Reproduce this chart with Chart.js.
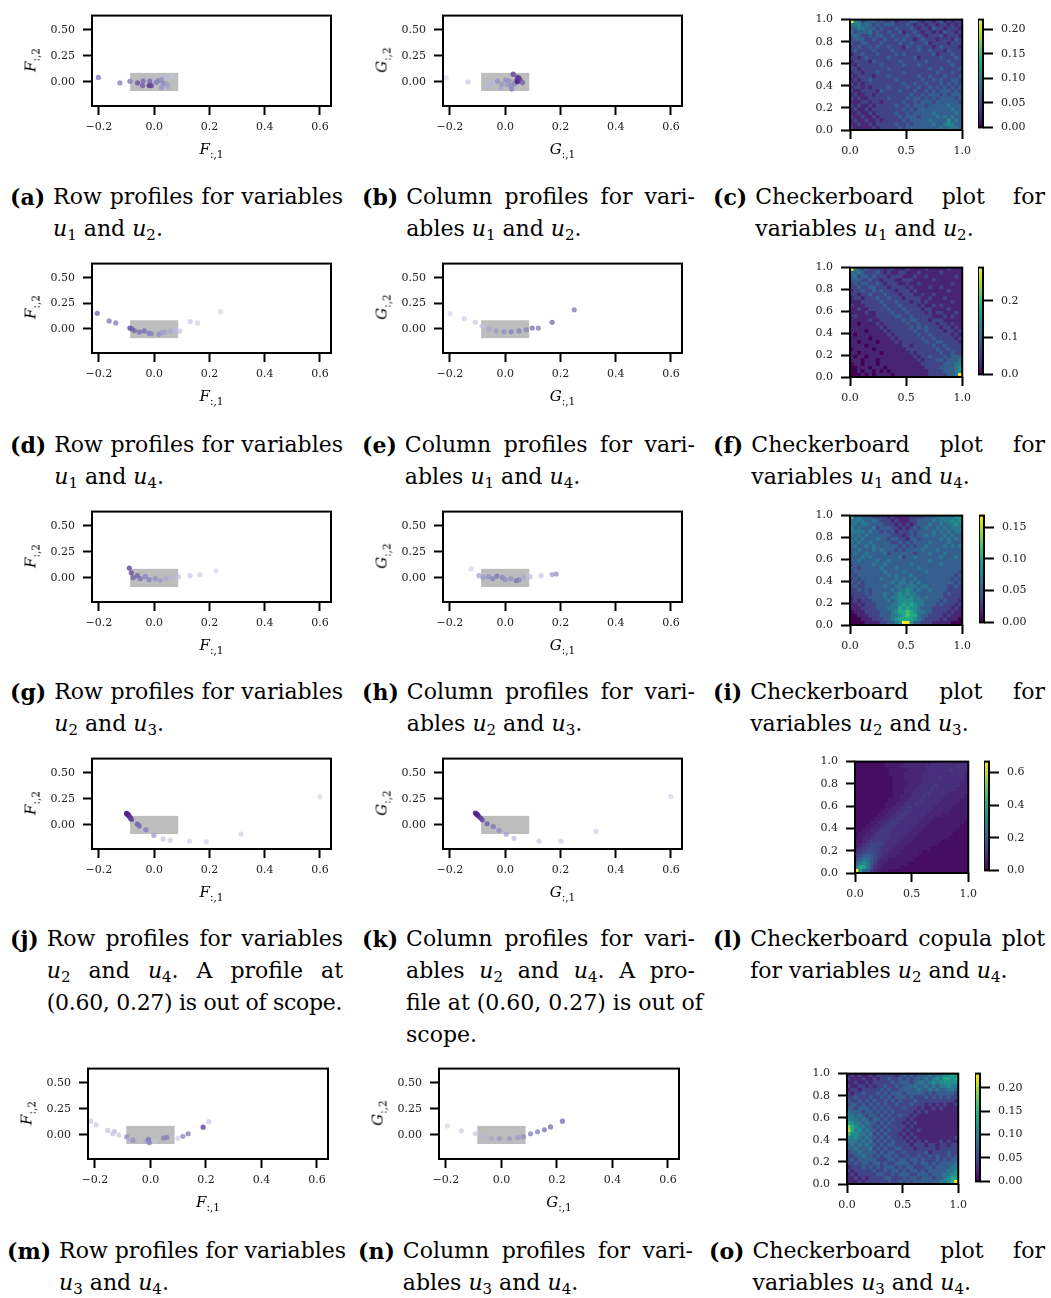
<!DOCTYPE html>
<html>
<head>
<meta charset="utf-8">
<title>Profiles and checkerboard copulas</title>
<script src="https://cdn.jsdelivr.net/npm/chart.js@4.4.1/dist/chart.umd.min.js"></script>
<style>
  html, body { margin: 0; padding: 0; background: #fff; }
  body { position: relative; width: 1051px; height: 1298px; overflow: hidden; font-family: "DejaVu Serif", serif; color: #000; }
  .box { position: absolute; }
  .box canvas { display: block; }
  .ttl { position: absolute; font-size: 15px; white-space: nowrap; line-height: 1; transform: translate(-50%, -50%); }
  .ttl.v { transform: translate(-50%, -50%) rotate(-90deg); }
  .ttl sub { font-size: 10.5px; vertical-align: -4px; line-height: 0; }
  .cap { position: absolute; display: flex; font-size: 22px; line-height: 32px; }
  .cap b { flex: none; margin-right: 8px; }
  .cap .txt { flex: 1 1 auto; min-width: 0; }
  .cap .txt > div { white-space: nowrap; }
  .cap .j { text-align: justify; text-align-last: justify; }
  .cap .tight { letter-spacing: -0.3px; }
  .cap sub { font-size: 15px; line-height: 0; vertical-align: -4px; }
</style>
</head>
<body>

<div class="cap" style="left:10px;top:181px;width:333px"><b>(a)</b><div class="txt"><div class="j">Row profiles for variables</div><div><i>u</i><sub>1</sub> and <i>u</i><sub>2</sub>.</div></div></div>
<div class="cap" style="left:362px;top:181px;width:333px"><b>(b)</b><div class="txt"><div class="j">Column profiles for vari-</div><div>ables <i>u</i><sub>1</sub> and <i>u</i><sub>2</sub>.</div></div></div>
<div class="cap" style="left:713px;top:181px;width:332px"><b>(c)</b><div class="txt"><div class="j">Checkerboard plot for</div><div>variables <i>u</i><sub>1</sub> and <i>u</i><sub>2</sub>.</div></div></div>

<div class="cap" style="left:10px;top:429px;width:333px"><b>(d)</b><div class="txt"><div class="j">Row profiles for variables</div><div><i>u</i><sub>1</sub> and <i>u</i><sub>4</sub>.</div></div></div>
<div class="cap" style="left:362px;top:429px;width:333px"><b>(e)</b><div class="txt"><div class="j">Column profiles for vari-</div><div>ables <i>u</i><sub>1</sub> and <i>u</i><sub>4</sub>.</div></div></div>
<div class="cap" style="left:713px;top:429px;width:332px"><b>(f)</b><div class="txt"><div class="j">Checkerboard plot for</div><div>variables <i>u</i><sub>1</sub> and <i>u</i><sub>4</sub>.</div></div></div>

<div class="cap" style="left:10px;top:676px;width:333px"><b>(g)</b><div class="txt"><div class="j">Row profiles for variables</div><div><i>u</i><sub>2</sub> and <i>u</i><sub>3</sub>.</div></div></div>
<div class="cap" style="left:362px;top:676px;width:333px"><b>(h)</b><div class="txt"><div class="j">Column profiles for vari-</div><div>ables <i>u</i><sub>2</sub> and <i>u</i><sub>3</sub>.</div></div></div>
<div class="cap" style="left:713px;top:676px;width:332px"><b>(i)</b><div class="txt"><div class="j">Checkerboard plot for</div><div>variables <i>u</i><sub>2</sub> and <i>u</i><sub>3</sub>.</div></div></div>

<div class="cap" style="left:10px;top:923px;width:333px"><b>(j)</b><div class="txt"><div class="j">Row profiles for variables</div><div class="j"><i>u</i><sub>2</sub> and <i>u</i><sub>4</sub>. A profile at</div><div class="tight">(0.60, 0.27) is out of scope.</div></div></div>
<div class="cap" style="left:362px;top:923px;width:333px"><b>(k)</b><div class="txt"><div class="j">Column profiles for vari-</div><div class="j">ables <i>u</i><sub>2</sub> and <i>u</i><sub>4</sub>. A pro-</div><div class="j">file at (0.60, 0.27) is out of</div><div>scope.</div></div></div>
<div class="cap" style="left:713px;top:923px;width:332px"><b>(l)</b><div class="txt"><div class="j">Checkerboard copula plot</div><div>for variables <i>u</i><sub>2</sub> and <i>u</i><sub>4</sub>.</div></div></div>

<div class="cap" style="left:7px;top:1235px;width:333px"><b>(m)</b><div class="txt"><div class="j">Row profiles for variables</div><div><i>u</i><sub>3</sub> and <i>u</i><sub>4</sub>.</div></div></div>
<div class="cap" style="left:358px;top:1235px;width:335px"><b>(n)</b><div class="txt"><div class="j">Column profiles for vari-</div><div>ables <i>u</i><sub>3</sub> and <i>u</i><sub>4</sub>.</div></div></div>
<div class="cap" style="left:709px;top:1235px;width:336px"><b>(o)</b><div class="txt"><div class="j">Checkerboard plot for</div><div>variables <i>u</i><sub>3</sub> and <i>u</i><sub>4</sub>.</div></div></div>

<script>
// ---------- axis ticks ----------
var profXTicks = [-0.2, 0, 0.2, 0.4, 0.6];
var profYTicks = [0, 0.25, 0.5];
var unitXTicks = [0, 0.5, 1];
var unitYTicks = [0, 0.2, 0.4, 0.6, 0.8, 1];

// grey box marking the central region of every profile plot
var boxX = [-0.087, 0.087];
var boxY = [-0.09, 0.085];

// ---------- profiles: first two coordinates, plus colour weight ----------
// u1 / u2
var rowX12 = [-0.202, -0.124, -0.088, -0.060, -0.040, -0.042, -0.016, -0.018, -0.010, 0.008, 0.0145, 0.0265, 0.036, 0.0325, 0.0265, 0.045, 0.0506, 0.0566, 0.065];
var rowY12 = [0.041, -0.0125, 0.003, -0.0125, 0.006, -0.0375, 0.006, -0.0375, -0.0375, -0.006, 0.009, 0.019, 0.059, -0.016, -0.059, -0.022, -0.047, 0.041, 0.05];
var rowW12 = [0.62, 0.58, 0.62, 0.75, 0.68, 0.72, 0.7, 0.85, 0.8, 0.62, 0.6, 0.55, 0.4, 0.58, 0.52, 0.5, 0.45, 0.4, 0.35];
var colX12 = [-0.214, -0.134, -0.066, -0.054, -0.040, -0.028, -0.016, -0.013, 0.002, 0.008, 0.0145, 0.020, 0.024, 0.029, 0.0325, 0.0386, 0.0446, 0.050, 0.0446, 0.054, 0.063];
var colY12 = [0.0375, -0.003, -0.047, 0.0, -0.022, 0.006, -0.059, -0.022, 0.016, -0.028, 0.009, -0.0375, -0.072, 0.072, -0.022, 0.009, 0.041, 0.034, 0.0, 0.016, -0.009];
var colW12 = [0.25, 0.3, 0.4, 0.4, 0.4, 0.55, 0.45, 0.5, 0.55, 0.5, 0.55, 0.55, 0.6, 0.8, 0.6, 0.65, 0.85, 0.85, 0.95, 0.8, 0.7];

// u1 / u4
var rowX14 = [-0.206, -0.163, -0.139, -0.088, -0.082, -0.072, -0.054, -0.036, -0.019, -0.010, 0.017, 0.0265, 0.0386, 0.059, 0.071, 0.0795, 0.093, 0.131, 0.157, 0.240];
var rowY14 = [0.153, 0.078, 0.059, 0.009, 0.003, -0.016, -0.031, -0.019, -0.041, -0.047, -0.053, -0.0375, -0.031, -0.022, -0.016, -0.0125, -0.022, 0.072, 0.059, 0.169];
var rowW14 = [0.68, 0.62, 0.6, 0.78, 0.72, 0.7, 0.66, 0.68, 0.62, 0.6, 0.55, 0.5, 0.48, 0.45, 0.4, 0.38, 0.3, 0.3, 0.28, 0.25];
var colX14 = [-0.199, -0.148, -0.108, -0.083, -0.058, -0.033, -0.004, 0.022, 0.05, 0.076, 0.098, 0.12, 0.17, 0.25];
var colY14 = [0.15, 0.10, 0.065, 0.028, 0.0, -0.019, -0.028, -0.028, -0.019, -0.009, 0.009, 0.009, 0.065, 0.187];
var colW14 = [0.25, 0.28, 0.3, 0.35, 0.45, 0.5, 0.55, 0.6, 0.6, 0.6, 0.65, 0.62, 0.65, 0.62];

// u2 / u3
var rowX23 = [-0.09, -0.083, -0.076, -0.061, -0.05, -0.032, -0.018, 0.004, 0.022, 0.043, 0.065, 0.087, 0.13, 0.166, 0.224];
var rowY23 = [0.093, 0.047, 0.0, 0.019, -0.01, 0.01, -0.019, -0.01, -0.028, -0.01, 0.0, 0.01, 0.019, 0.028, 0.065];
var rowW23 = [0.8, 0.75, 0.7, 0.7, 0.65, 0.6, 0.6, 0.55, 0.5, 0.45, 0.4, 0.35, 0.3, 0.28, 0.25];
var colX23 = [-0.123, -0.095, -0.08, -0.06, -0.045, -0.03, -0.01, 0.0, 0.02, 0.04, 0.05, 0.065, 0.09, 0.13, 0.17, 0.185];
var colY23 = [0.084, 0.02, 0.0, 0.01, -0.01, 0.015, 0.0, -0.02, -0.01, -0.03, -0.02, 0.005, 0.01, 0.02, 0.03, 0.035];
var colW23 = [0.25, 0.45, 0.5, 0.55, 0.6, 0.65, 0.6, 0.55, 0.55, 0.65, 0.6, 0.45, 0.35, 0.3, 0.45, 0.5];

// u2 / u4 (last profile sits at (0.60, 0.27))
var rowX24 = [-0.100, -0.098, -0.096, -0.094, -0.091, -0.088, -0.085, -0.082, -0.061, -0.054, -0.030, -0.001, 0.0325, 0.058, 0.128, 0.189, 0.314, 0.60];
var rowY24 = [0.109, 0.104, 0.099, 0.094, 0.085, 0.072, 0.062, 0.050, 0.006, -0.0125, -0.050, -0.103, -0.1375, -0.15, -0.159, -0.166, -0.091, 0.27];
var rowW24 = [0.95, 0.95, 0.9, 0.9, 0.88, 0.85, 0.82, 0.8, 0.72, 0.68, 0.62, 0.48, 0.32, 0.3, 0.28, 0.28, 0.28, 0.25];
var colX24 = [-0.108, -0.104, -0.100, -0.097, -0.090, -0.083, -0.065, -0.043, -0.022, 0.004, 0.032, 0.123, 0.202, 0.329, 0.60];
var colY24 = [0.112, 0.104, 0.096, 0.084, 0.066, 0.047, 0.009, -0.019, -0.056, -0.093, -0.131, -0.159, -0.159, -0.065, 0.27];
var colW24 = [0.95, 0.92, 0.9, 0.88, 0.85, 0.8, 0.72, 0.65, 0.55, 0.45, 0.35, 0.3, 0.28, 0.28, 0.25];

// u3 / u4
var rowX34 = [-0.214, -0.196, -0.154, -0.136, -0.13, -0.114, -0.0855, -0.078, -0.063, -0.016, -0.007, -0.004, 0.016, 0.048, 0.059, 0.099, 0.117, 0.136, 0.19, 0.21];
var rowY34 = [0.131, 0.094, 0.041, 0.009, 0.031, -0.003, -0.022, -0.047, -0.053, -0.0625, -0.047, -0.078, -0.0625, -0.031, -0.025, -0.034, -0.016, 0.009, 0.072, 0.125];
var rowW34 = [0.3, 0.3, 0.32, 0.32, 0.35, 0.3, 0.55, 0.4, 0.55, 0.45, 0.65, 0.6, 0.35, 0.6, 0.6, 0.28, 0.55, 0.6, 0.8, 0.3];
var colX34 = [-0.195, -0.144, -0.094, -0.065, -0.036, -0.007, 0.029, 0.058, 0.079, 0.105, 0.13, 0.155, 0.177, 0.22];
var colY34 = [0.084, 0.037, 0.009, -0.019, -0.037, -0.037, -0.037, -0.028, -0.019, 0.009, 0.028, 0.047, 0.075, 0.13];
var colW34 = [0.25, 0.28, 0.3, 0.4, 0.45, 0.5, 0.5, 0.5, 0.55, 0.6, 0.6, 0.62, 0.65, 0.65];

// ---------- checkerboard cells: one base-36 level per cell, top row first ----------
var cb12Step = 0.022;
var cb12 = [
  "a542333232 2312223321 2212312122",
  "4453432323 3322232122 1221221212",
  "3344333232 2232223212 2132212221",
  "4233342322 3223122321 2212132212",
  "3432232332 2322232232 1222312221",
  "2333223223 2232322123 2221222132",
  "3223322232 2223223222 3122221222",
  "2232232322 3222132232 2212322221",
  "2322223222 2322222232 2322213222",
  "1223222322 2232322222 2231222322",
  "2212322222 3222222312 2222322232",
  "1222213222 2223222222 3222223222",
  "2122222232 2222322232 2222222322",
  "2212222222 3222222222 2322322223",
  "1221222322 2222322222 2223222322",
  "2122221222 3222222232 2322232223",
  "1212232222 2232222223 2232322332",
  "2121222222 2222322322 3222323232",
  "1221212222 3222232232 2323232323",
  "2112222132 2223222322 3232333232",
  "1211221222 2222223223 2333232333",
  "2121122222 3222232332 3232333323",
  "1112212212 2222322323 3323333332",
  "2121121222 2232232333 2333334333",
  "1211212222 2222323233 3333333433",
  "1121121222 2232232333 3343333343",
  "2112112122 2223233323 3334343433",
  "1211211212 2222323333 3433335343",
  "1121121222 2232232333 3343345433",
  "2111112122 2223233333 3333434443"
];
var cb12Ticks = [0, 0.05, 0.1, 0.15, 0.2];

var cb14Step = 0.029;
var cb14 = [
  "a532322221 2211121111 2111112111",
  "4343222321 2112211121 1111211111",
  "3423323222 1222111211 2111111121",
  "3332232212 2211222111 1121111111",
  "2323322321 2221121121 1111111211",
  "2232233222 1222212111 1211211111",
  "1223223232 2212221211 1111112111",
  "2212232223 2221222112 1121111111",
  "1221222322 3222122221 1211121111",
  "1112222232 2232221221 2111111211",
  "2111222223 2223222212 1121211111",
  "1121122222 3222322221 2211112111",
  "1111211222 2322232222 1212211121",
  "1211111222 2233223222 2211121211",
  "1111121122 2222323322 2122211111",
  "1101111212 2222232232 2221221211",
  "1111111121 2222223232 3222122121",
  "1111011112 1222222322 3222212212",
  "1011111111 2122222232 2322222121",
  "1111101111 1212222223 2232222212",
  "1101111011 1121222222 3223322221",
  "1111011111 1111221222 2232232222",
  "0111110111 1111122222 2223223222",
  "1101111101 1111112122 2222322322",
  "1011011111 1111111212 2322232333",
  "1110111011 1111111121 2223323334",
  "0110111011 1111111112 2222233344",
  "0011101110 1111111111 2222333345",
  "0010110101 0111111111 1222233345",
  "0001010111 1011111111 122222334a"
];
var cb14Ticks = [0, 0.1, 0.2];

var cb23Step = 0.0168;
var cb23 = [
  "7343332222 1211112222 3334444455",
  "4444334322 2121112233 3343444545",
  "4434433332 2212121233 3433434454",
  "5343334233 3221212323 4334343444",
  "4444343323 2312223233 3343434344",
  "4343433333 3222123233 4343343433",
  "3434333433 2332213323 3333434343",
  "4343343333 3223232333 3433334333",
  "3433434333 3332323233 4333343434",
  "3343334343 3323233334 3334333333",
  "3433433334 2333333233 3433343333",
  "3334343333 3334233433 3333433343",
  "3343333433 4333333333 3433333333",
  "2333334334 3333334333 3333433333",
  "3323333343 3343333343 3333333333",
  "2333333334 3333433333 4333333332",
  "3233333333 4343334333 3333333323",
  "2323333343 3343433433 3333333232",
  "3232333333 3434434343 3333333323",
  "2322333334 3344344434 4333332232",
  "2232323333 3434454343 3433332222",
  "2222323334 3345454433 3333323222",
  "1222233334 3445545443 4333322222",
  "1212223333 4345555444 3333232221",
  "1121222333 3445656544 3332322212",
  "1112222333 4446565543 3322222121",
  "0111222233 3456676544 3322221211",
  "0011122233 3445676643 3222212111",
  "0001112223 3456666543 2222121110",
  "0000111122 3345aa5332 2211111000"
];
var cb23Ticks = [0, 0.05, 0.1, 0.15];

var cb24Step = 0.0222;
var cb24 = [
  "1111111122 2223333333 4444444444",
  "1111111122 2233333334 4444444544",
  "1111111112 2222333334 4444454444",
  "1111111112 2223333344 4444444443",
  "1111111111 2223333344 4454444443",
  "1111111111 2222333344 4444444433",
  "1111111111 2222333444 4544444433",
  "1111111111 2223334444 5444444333",
  "1111111111 2223344445 4444433333",
  "1111111111 2233344454 4444333332",
  "1111111112 2233444544 4443333322",
  "1111111122 2334445444 4433333222",
  "1111111122 3344544444 4333332222",
  "1111111223 3445544444 3333322222",
  "1111112233 4455444443 3332222222",
  "1111122334 4554444433 3222222222",
  "1111223345 5544444333 2222222221",
  "1112233455 5444443332 2222222211",
  "1122334555 4444433322 2222222111",
  "1223345554 4444333222 2222221111",
  "1233455554 4443332222 2222211111",
  "2234555544 4433322222 2221111111",
  "2345666544 4333222222 2211111111",
  "3456665444 3332222222 1111111111",
  "4567765443 3322222211 1111111111",
  "5789865433 3222222111 1111111111",
  "79ca864332 2222221111 1111111111",
  "9cec853322 2222111111 1111111111",
  "eihb743222 2211111111 1111111111",
  "ufa9532221 1111111111 1111111111"
];
var cb24Ticks = [0, 0.2, 0.4, 0.6];

var cb34Step = 0.023;
var cb34 = [
  "1212112122 2221232323 3343445565",
  "2111211212 2322323233 3434546656",
  "1121121222 2232333234 4345455555",
  "2112212122 3223233343 3434344544",
  "1221222223 2322333334 3343433443",
  "2122322232 3233323333 3232333332",
  "2232223223 2323332322 2323232322",
  "3223232322 3232322232 2222222221",
  "2332323232 3223222322 2121212112",
  "3323332323 2322232221 2112121111",
  "4333233232 3232222212 1211111111",
  "4434323323 2322322121 1111111111",
  "5443432332 3232221211 1111111111",
  "6544343323 2322212121 1111111111",
  "8654433232 3222221211 1111111111",
  "9645343323 2322212112 1111111111",
  "7554434232 3222121211 1111111111",
  "5454343323 2322212121 1111111112",
  "4443434232 3232221212 1211121211",
  "3434343323 2332222122 2122122122",
  "3343334232 3223322212 2222122222",
  "2334333323 2332232222 2312222322",
  "2233433232 3323223223 2232322323",
  "2323333322 2332332332 3222323233",
  "2232332332 3223333232 3323233334",
  "1222323232 3332323322 2332333344",
  "2122222322 3233232332 3233333445",
  "1212222233 2232333223 3323334455",
  "1121212222 3322232332 3332334566",
  "1112122222 2322323233 333334456a"
];
var cb34Ticks = [0, 0.05, 0.1, 0.15, 0.2];

// ---------- colour maps ----------
var VIRIDIS = ['#440154', '#481a6c', '#472f7d', '#414487', '#39568c', '#31688e', '#2a788e', '#23888e',
               '#1f988b', '#22a884', '#35b779', '#54c568', '#7ad151', '#a5db36', '#d2e21b', '#fde725'];
var PURPLES = ['#fcfbfd', '#efedf5', '#dadaeb', '#bcbddc', '#9e9ac8', '#807dba', '#6a51a3', '#54278f', '#3f007d'];

function hexRgb(h) {
  return [1, 3, 5].map(function (k) { return parseInt(h.substr(k, 2), 16); });
}
function mix(stops, t) {
  t = Math.min(1, Math.max(0, t));
  var p = t * (stops.length - 1);
  var i = Math.min(Math.floor(p), stops.length - 2);
  var f = p - i;
  var a = hexRgb(stops[i]), b = hexRgb(stops[i + 1]);
  return [0, 1, 2].map(function (k) { return Math.round(a[k] + (b[k] - a[k]) * f); });
}
function viridis(t) { return 'rgb(' + mix(VIRIDIS, t).join(',') + ')'; }
function purple(t) { return 'rgba(' + mix(PURPLES, t).join(',') + ',0.8)'; }

function fmt(v, d) {
  return (v < -1e-9 ? '\u2212' : '') + Math.abs(v).toFixed(d);
}

// ---------- plugins ----------
var zoomBox = {
  id: 'zoomBox',
  beforeDatasetsDraw: function (chart) {
    var x = chart.scales.x, y = chart.scales.y, ctx = chart.ctx;
    var l = x.getPixelForValue(boxX[0]), r = x.getPixelForValue(boxX[1]);
    var t = y.getPixelForValue(boxY[1]), b = y.getPixelForValue(boxY[0]);
    ctx.save();
    ctx.fillStyle = '#bdbdbd';
    ctx.fillRect(l, t, r - l, b - t);
    ctx.restore();
  }
};

var frame = {
  id: 'frame',
  afterDraw: function (chart) {
    var a = chart.chartArea, ctx = chart.ctx;
    ctx.save();
    ctx.strokeStyle = '#000';
    ctx.lineWidth = 2;
    ctx.strokeRect(a.left, a.top, a.right - a.left, a.bottom - a.top);
    ctx.restore();
  }
};

// ---------- helpers ----------
function mount(rect, pad) {
  var W = Math.round(rect[2] + pad.l + pad.r), H = Math.round(rect[3] + pad.t + pad.b);
  var div = document.createElement('div');
  div.className = 'box';
  div.style.left = (rect[0] - pad.l) + 'px';
  div.style.top = (rect[1] - pad.t) + 'px';
  div.style.width = W + 'px';
  div.style.height = H + 'px';
  var cv = document.createElement('canvas');
  cv.width = W;
  cv.height = H;
  div.appendChild(cv);
  document.body.appendChild(div);
  return cv;
}

function axis(o) {
  return {
    type: 'linear', position: o.pos, min: o.min, max: o.max, offset: false,
    afterBuildTicks: function (s) { s.ticks = o.ticks.map(function (v) { return { value: v }; }); },
    afterFit: function (s) { if (s.isHorizontal()) s.height = o.size; else s.width = o.size; },
    border: { display: false },
    grid: { drawOnChartArea: false, drawTicks: true, tickLength: o.tickLen, tickWidth: 2, tickColor: '#000', offset: false },
    ticks: {
      autoSkip: false, maxRotation: 0, padding: o.pad, color: '#222',
      font: { family: 'DejaVu Serif', size: 11 },
      callback: function (v) { return fmt(v, o.digits); }
    }
  };
}

function baseOptions(pad, scales) {
  return {
    responsive: false, animation: false, events: [],
    layout: { padding: { top: pad.t, right: pad.r, left: 0, bottom: 0 } },
    plugins: { legend: { display: false }, tooltip: { enabled: false } },
    scales: scales
  };
}

function addTitle(html, x, y, vertical) {
  var el = document.createElement('div');
  el.className = 'ttl' + (vertical ? ' v' : '');
  el.innerHTML = html;
  el.style.left = x + 'px';
  el.style.top = y + 'px';
  document.body.appendChild(el);
}

function drawProfile(p) {
  var pad = { l: 70, r: 14, t: 12, b: 34 };
  var cv = mount(p.rect, pad);
  new Chart(cv, {
    type: 'scatter',
    data: {
      datasets: [{
        data: p.x.map(function (v, i) { return { x: v, y: p.y[i] }; }),
        pointRadius: 2.6, pointHoverRadius: 2.6, pointBorderWidth: 0,
        pointBackgroundColor: p.w.map(purple)
      }]
    },
    options: baseOptions(pad, {
      x: axis({ pos: 'bottom', min: -0.225, max: 0.64, ticks: profXTicks, digits: 1, size: pad.b, tickLen: 9, pad: 6 }),
      y: axis({ pos: 'left', min: -0.235, max: 0.638, ticks: profYTicks, digits: 2, size: pad.l, tickLen: 9, pad: 8 })
    }),
    plugins: [zoomBox, frame]
  });
  var r = p.rect;
  addTitle('<i>' + p.letter + '</i><sub>:,1</sub>', r[0] + r[2] / 2, r[1] + r[3] + 43, false);
  addTitle('<i>' + p.letter + '</i><sub>:,2</sub>', r[0] - 61, r[1] + r[3] / 2, true);
}

function drawChecker(p) {
  var rows = p.cells.map(function (s) { return s.replace(/ /g, ''); });
  var n = rows.length;
  var cells = [];
  rows.forEach(function (row, r) {
    for (var c = 0; c < row.length; c++) {
      cells.push({ x: (c + 0.5) / n, y: [(n - 1 - r) / n, (n - r) / n], v: parseInt(row[c], 36) * p.step });
    }
  });
  var vmax = Math.max.apply(null, cells.map(function (d) { return d.v; }));

  var pad = { l: 60, r: 14, t: 12, b: 34 };
  var cv = mount(p.rect, pad);
  new Chart(cv, {
    type: 'bar',
    data: {
      datasets: [{
        data: cells,
        backgroundColor: cells.map(function (d) { return viridis(d.v / vmax); }),
        borderWidth: 0, barPercentage: 1, categoryPercentage: 1, grouped: false, inflateAmount: 0.4
      }]
    },
    options: baseOptions(pad, {
      x: axis({ pos: 'bottom', min: 0, max: 1, ticks: unitXTicks, digits: 1, size: pad.b, tickLen: 9, pad: 6 }),
      y: axis({ pos: 'left', min: 0, max: 1, ticks: unitYTicks, digits: 1, size: pad.l, tickLen: 9, pad: 8 })
    }),
    plugins: [frame]
  });

  // colour bar
  var cpad = { l: 0, r: 50, t: 12, b: 12 };
  var cc = mount(p.bar, cpad);
  var yAx = axis({ pos: 'right', min: 0, max: vmax, ticks: p.ticks, digits: p.digits, size: cpad.r, tickLen: 10, pad: 8 });
  new Chart(cc, {
    type: 'bar',
    data: {
      labels: [''],
      datasets: [{
        data: [[0, vmax]],
        borderWidth: 0, barPercentage: 1, categoryPercentage: 1,
        backgroundColor: function (ctx) {
          var a = ctx.chart.chartArea;
          if (!a) return VIRIDIS[0];
          var g = ctx.chart.ctx.createLinearGradient(0, a.bottom, 0, a.top);
          VIRIDIS.forEach(function (col, i) { g.addColorStop(i / (VIRIDIS.length - 1), col); });
          return g;
        }
      }]
    },
    options: {
      responsive: false, animation: false, events: [],
      layout: { padding: { top: cpad.t, bottom: cpad.b, left: 0, right: 0 } },
      plugins: { legend: { display: false }, tooltip: { enabled: false } },
      scales: { x: { display: false }, y: yAx }
    },
    plugins: [frame]
  });
}

// ---------- layout ----------
var profiles = [
  { rect: [92, 13, 239, 93], x: rowX12, y: rowY12, w: rowW12, letter: 'F' },
  { rect: [443, 13, 239, 93], x: colX12, y: colY12, w: colW12, letter: 'G' },
  { rect: [92, 261, 239, 92], x: rowX14, y: rowY14, w: rowW14, letter: 'F' },
  { rect: [443, 261, 239, 92], x: colX14, y: colY14, w: colW14, letter: 'G' },
  { rect: [92, 509, 239, 93], x: rowX23, y: rowY23, w: rowW23, letter: 'F' },
  { rect: [443, 509, 239, 93], x: colX23, y: colY23, w: colW23, letter: 'G' },
  { rect: [92, 756, 239, 93], x: rowX24, y: rowY24, w: rowW24, letter: 'F' },
  { rect: [443, 756, 239, 93], x: colX24, y: colY24, w: colW24, letter: 'G' },
  { rect: [88, 1066, 240, 93], x: rowX34, y: rowY34, w: rowW34, letter: 'F' },
  { rect: [439, 1066, 240, 93], x: colX34, y: colY34, w: colW34, letter: 'G' }
];

var checkers = [
  { rect: [850, 17, 113, 113], bar: [978, 17, 5, 113], cells: cb12, step: cb12Step, ticks: cb12Ticks, digits: 2 },
  { rect: [850, 265, 113, 112], bar: [978, 265, 5, 112], cells: cb14, step: cb14Step, ticks: cb14Ticks, digits: 1 },
  { rect: [850, 513, 113, 112], bar: [979, 513, 5, 112], cells: cb23, step: cb23Step, ticks: cb23Ticks, digits: 2 },
  { rect: [855, 759, 114, 114], bar: [984, 759, 5, 114], cells: cb24, step: cb24Step, ticks: cb24Ticks, digits: 1 },
  { rect: [847, 1071, 112, 113], bar: [975, 1071, 5, 113], cells: cb34, step: cb34Step, ticks: cb34Ticks, digits: 2 }
];

profiles.forEach(drawProfile);
checkers.forEach(drawChecker);
</script>
</body>
</html>
